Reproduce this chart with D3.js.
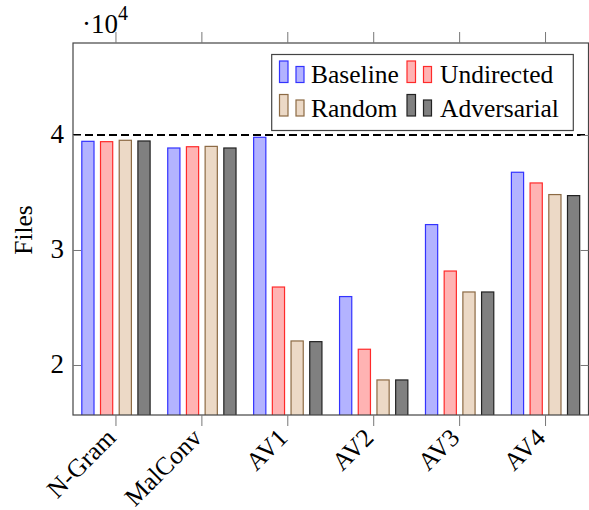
<!DOCTYPE html>
<html>
<head>
<meta charset="utf-8">
<script src="https://cdn.jsdelivr.net/npm/d3@7"></script>
<style>
  html, body { margin: 0; padding: 0; background: #fff; }
  svg { display: block; }
  text { font-family: "Liberation Serif", "Times New Roman", serif; fill: #000; }
</style>
</head>
<body>
<svg id="chart" width="589" height="510"></svg>
<script>
const categories = ["N-Gram", "MalConv", "AV1", "AV2", "AV3", "AV4"];
const seriesNames = ["Baseline", "Undirected", "Random", "Adversarial"];
const baseline    = [39450, 38870, 39800, 25950, 32210, 36760];
const undirected  = [39420, 38980, 26780, 21370, 28170, 35830];
const random      = [39540, 39010, 22090, 18700, 26350, 34820];
const adversarial = [39480, 38870, 22030, 18700, 26350, 34730];
const yTicks = [20000, 30000, 40000];
const yTickLabels = ["2", "3", "4"];
const thresholdValue = 40000;
const yDomain = [15652, 48000];

const seriesValues = [baseline, undirected, random, adversarial];
const fills   = ["#b3b3ff", "#ffb3b3", "#ecd9c6", "#808080"];
const strokes = ["#3333ff", "#ff2a2a", "#8c6a44", "#222222"];

const svg = d3.select("#chart");
const L = 73, R = 588.5, T = 43, B = 415;

const x = d3.scaleBand().domain(categories).range([L, R]).padding(0);
const y = d3.scaleLinear().domain(yDomain).range([B, T]);
const xs = d3.scaleBand().domain(seriesNames).range([-34.65, 34.65]).paddingInner(0.294);

svg.append("defs").append("clipPath").attr("id", "clip")
  .append("rect").attr("x", L).attr("y", T).attr("width", R - L).attr("height", B - T);

// bars
const plot = svg.append("g").attr("clip-path", "url(#clip)");
seriesNames.forEach((s, si) => {
  plot.append("g").selectAll("rect")
    .data(categories.map((c, i) => ({ c, v: seriesValues[si][i] })))
    .join("rect")
    .attr("x", d => x(d.c) + x.bandwidth() / 2 + xs(s) + 0.5)
    .attr("y", d => y(d.v))
    .attr("width", xs.bandwidth() - 1)
    .attr("height", d => y(yDomain[0]) - y(d.v) + 2)
    .attr("fill", fills[si])
    .attr("stroke", strokes[si])
    .attr("stroke-width", 1.2);
});

// dashed threshold line
svg.append("line")
  .attr("x1", L).attr("x2", R)
  .attr("y1", y(thresholdValue)).attr("y2", y(thresholdValue))
  .attr("stroke", "#000").attr("stroke-width", 2)
  .attr("stroke-dasharray", "8,4");

// frame
svg.append("rect").attr("x", L).attr("y", T).attr("width", R - L).attr("height", B - T)
  .attr("fill", "none").attr("stroke", "#444").attr("stroke-width", 1.2);

// x ticks (outside, top and bottom)
const xAxisB = d3.axisBottom(x).tickSize(11).tickFormat("");
const gxb = svg.append("g").attr("transform", `translate(0,${B})`).call(xAxisB);
gxb.select(".domain").remove();
gxb.selectAll("line").attr("stroke", "#777");
const xAxisT = d3.axisTop(x).tickSize(11).tickFormat("");
const gxt = svg.append("g").attr("transform", `translate(0,${T})`).call(xAxisT);
gxt.select(".domain").remove();
gxt.selectAll("line").attr("stroke", "#777");

// y ticks (inside, left and right)
const yAxisL = d3.axisLeft(y).tickValues(yTicks).tickSize(-8).tickFormat("");
const gyl = svg.append("g").attr("transform", `translate(${L},0)`).call(yAxisL);
gyl.select(".domain").remove();
gyl.selectAll("line").attr("stroke", "#777");
const yAxisR = d3.axisRight(y).tickValues(yTicks).tickSize(-8).tickFormat("");
const gyr = svg.append("g").attr("transform", `translate(${R},0)`).call(yAxisR);
gyr.select(".domain").remove();
gyr.selectAll("line").attr("stroke", "#777");

// y tick labels
svg.append("g").selectAll("text")
  .data(yTicks)
  .join("text")
  .attr("x", 64)
  .attr("y", d => y(d) + 8.5)
  .attr("text-anchor", "end")
  .attr("font-size", 27)
  .text((d, i) => yTickLabels[i]);

// scale factor label
const sf = svg.append("text").attr("x", 82).attr("y", 33).attr("font-size", 27);
sf.append("tspan").text("·10");
sf.append("tspan").attr("dy", -13).attr("font-size", 20).text("4");

// y axis title
svg.append("text")
  .attr("transform", "translate(32,230) rotate(-90)")
  .attr("text-anchor", "middle")
  .attr("font-size", 25.5)
  .text("Files");

// x tick labels rotated
svg.append("g").selectAll("text")
  .data(categories)
  .join("text")
  .attr("transform", d => `translate(${x(d) + x.bandwidth() / 2 - 5},${433}) rotate(-45)`)
  .attr("text-anchor", "end")
  .attr("dy", "0.35em")
  .attr("font-size", 25.5)
  .text(d => d);

// legend
const lg = svg.append("g");
lg.append("rect").attr("x", 271.7).attr("y", 54.5).attr("width", 301.6).attr("height", 76)
  .attr("fill", "#fff").attr("stroke", "#444").attr("stroke-width", 1.2);
const legendPos = [
  { ix: 279.5, tx: 311, by: 82.5 },
  { ix: 407, tx: 440, by: 82.5 },
  { ix: 279.5, tx: 311, by: 116 },
  { ix: 407, tx: 440, by: 116 }
];
seriesNames.forEach((s, si) => {
  const p = legendPos[si];
  lg.append("rect").attr("x", p.ix).attr("y", p.by - 21.5).attr("width", 8.5).attr("height", 21.5)
    .attr("fill", fills[si]).attr("stroke", strokes[si]).attr("stroke-width", 1.2);
  lg.append("rect").attr("x", p.ix + 16.5).attr("y", p.by - 16).attr("width", 8).attr("height", 16)
    .attr("fill", fills[si]).attr("stroke", strokes[si]).attr("stroke-width", 1.2);
  lg.append("text").attr("x", p.tx).attr("y", p.by + 0.5).attr("font-size", 25.5).text(s);
});
</script>
</body>
</html>
